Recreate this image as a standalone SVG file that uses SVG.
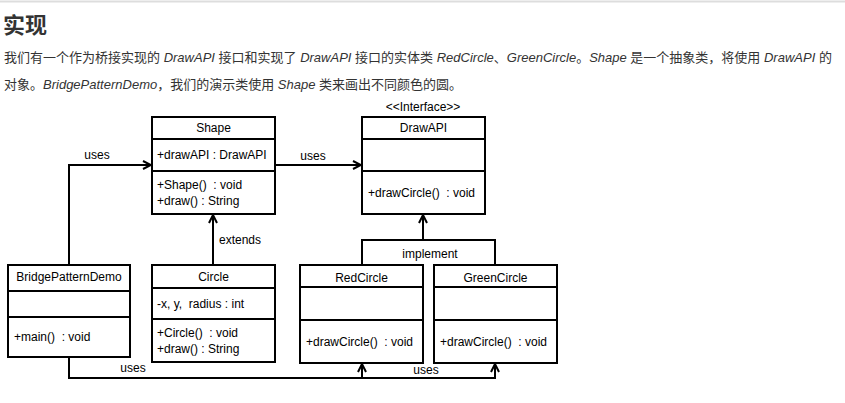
<svg xmlns="http://www.w3.org/2000/svg" width="845" height="403" viewBox="0 0 845 403">
<style>
.box{fill:#fff;stroke:#000;stroke-width:2}
.div{stroke:#000;stroke-width:2}
.t{font-family:"Liberation Sans","Noto Sans",sans-serif;font-size:12px;fill:#000;white-space:pre}
.c{text-anchor:middle}
.con{fill:none;stroke:#000;stroke-width:2}
.p{font-family:"Liberation Sans","Noto Sans CJK SC",sans-serif;font-size:13px;fill:#333}
.i{font-style:italic}
</style>
<defs>
<marker id="arr" viewBox="0 0 10 10" refX="9" refY="5" markerWidth="10" markerHeight="10" markerUnits="userSpaceOnUse" orient="auto">
<path d="M1,1 L9,5 L1,9" fill="none" stroke="#000" stroke-width="2"/>
</marker>
</defs>
<rect width="845" height="403" fill="#fff"/>
<line x1="0" y1="1.5" x2="845" y2="1.5" stroke="#ddd" stroke-width="2"/>
<text x="3" y="33" font-family="'Noto Sans CJK SC',sans-serif" font-size="22" font-weight="bold" fill="#333">实现</text>
<text class="p" x="4" y="62">我们有一个作为桥接实现的 <tspan class="i">DrawAPI</tspan> 接口和实现了 <tspan class="i">DrawAPI</tspan> 接口的实体类 <tspan class="i">RedCircle</tspan>、<tspan class="i">GreenCircle</tspan>。<tspan class="i">Shape</tspan> 是一个抽象类，将使用 <tspan class="i">DrawAPI</tspan> 的</text>
<text class="p" x="4" y="89">对象。<tspan class="i">BridgePatternDemo</tspan>，我们的演示类使用 <tspan class="i">Shape</tspan> 类来画出不同颜色的圆。</text>

<g id="connectors">
<path class="con" d="M69,265 V165 H151" marker-end="url(#arr)"/>
<path class="con" d="M275,165 H361" marker-end="url(#arr)"/>
<path class="con" d="M213,265 V215" marker-end="url(#arr)"/>
<path class="con" d="M362,265 V240 H495 V265"/>
<path class="con" d="M423,240 V215" marker-end="url(#arr)"/>
<path class="con" d="M69,357 V378 H362 V364" marker-end="url(#arr)"/>
<path class="con" d="M362,378 H495 V364" marker-end="url(#arr)"/>
<text class="t c" x="97" y="159">uses</text>
<text class="t c" x="313" y="160">uses</text>
<text class="t" x="219" y="244">extends</text>
<text class="t c" x="430" y="258">implement</text>
<text class="t c" x="133" y="372">uses</text>
<text class="t c" x="426" y="374">uses</text>
</g>

<g id="shape">
<rect class="box" x="152" y="117" width="123" height="97"/>
<line class="div" x1="152" y1="139" x2="275" y2="139"/>
<line class="div" x1="152" y1="171" x2="275" y2="171"/>
<text class="t c" x="213.5" y="132">Shape</text>
<text class="t" x="157" y="159">+drawAPI : DrawAPI</text>
<text class="t" x="157" y="189">+Shape()  : void</text>
<text class="t" x="157" y="205">+draw() : String</text>
</g>

<g id="drawapi">
<text class="t c" x="423" y="111">&lt;&lt;Interface&gt;&gt;</text>
<rect class="box" x="362" y="117" width="123" height="97"/>
<line class="div" x1="362" y1="139" x2="485" y2="139"/>
<line class="div" x1="362" y1="171" x2="485" y2="171"/>
<text class="t c" x="423.5" y="132">DrawAPI</text>
<text class="t" x="368" y="197">+drawCircle()  : void</text>
</g>

<g id="bridgepatterndemo">
<rect class="box" x="8" y="265" width="122" height="92"/>
<line class="div" x1="8" y1="291" x2="130" y2="291"/>
<line class="div" x1="8" y1="317" x2="130" y2="317"/>
<text class="t c" x="69" y="281">BridgePatternDemo</text>
<text class="t" x="14" y="341">+main()  : void</text>
</g>

<g id="circle">
<rect class="box" x="152" y="265" width="123" height="97"/>
<line class="div" x1="152" y1="288" x2="275" y2="288"/>
<line class="div" x1="152" y1="319" x2="275" y2="319"/>
<text class="t c" x="213.5" y="281">Circle</text>
<text class="t" x="157" y="308">-x, y,  radius : int</text>
<text class="t" x="157" y="337">+Circle()  : void</text>
<text class="t" x="157" y="353">+draw() : String</text>
</g>

<g id="redcircle">
<rect class="box" x="300" y="265" width="123" height="98"/>
<line class="div" x1="300" y1="287" x2="423" y2="287"/>
<line class="div" x1="300" y1="320" x2="423" y2="320"/>
<text class="t c" x="361.5" y="282">RedCircle</text>
<text class="t" x="306" y="346">+drawCircle()  : void</text>
</g>

<g id="greencircle">
<rect class="box" x="434" y="265" width="123" height="98"/>
<line class="div" x1="434" y1="287" x2="557" y2="287"/>
<line class="div" x1="434" y1="320" x2="557" y2="320"/>
<text class="t c" x="495.5" y="282">GreenCircle</text>
<text class="t" x="440" y="346">+drawCircle()  : void</text>
</g>
</svg>
